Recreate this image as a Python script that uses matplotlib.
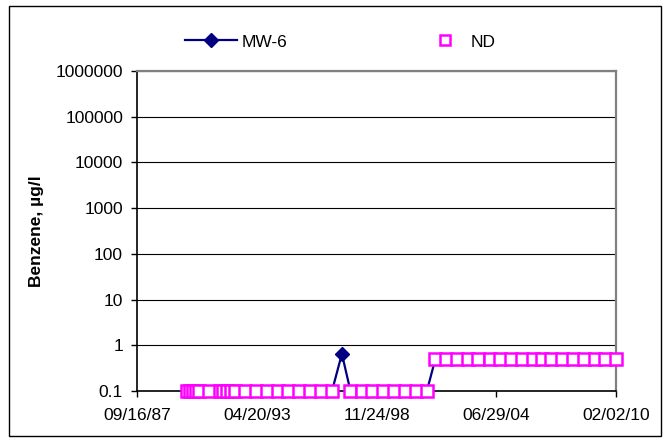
import pandas as pd
import numpy as np
import matplotlib
matplotlib.use('Agg')
import matplotlib.pyplot as plt
import matplotlib.dates as mdates
from matplotlib.patches import Rectangle
from matplotlib.lines import Line2D

plt.rcParams['font.family'] = ['Liberation Sans', 'DejaVu Sans']

# sampling dates for well MW-6
dates = ['1990-01-15', '1990-03-07', '1990-04-27', '1990-06-17', '1990-08-07',
         '1991-02-02', '1991-07-31', '1991-09-20', '1991-11-28', '1992-02-06',
         '1992-04-16', '1992-10-01', '1993-04-09', '1993-10-12', '1994-04-20',
         '1994-10-05', '1995-04-12', '1995-10-16', '1996-04-22', '1996-10-26',
         '1997-04-13',
         '1997-09-06', '1998-03-14', '1998-09-09', '1999-03-14', '1999-09-16',
         '2000-03-25', '2000-09-27', '2001-04-02',
         '2001-08-25', '2002-02-28', '2002-09-02', '2003-02-28', '2003-08-26',
         '2004-03-07', '2004-09-09', '2005-03-14', '2005-09-13', '2006-03-14',
         '2006-08-22', '2007-01-26', '2007-07-28', '2008-01-26', '2008-07-31',
         '2009-02-02', '2009-07-27', '2010-02-06']

# benzene, ug/l (non-detects plotted at detection limit)
benzene = [0.1] * 20 + [0.65] + [0.1] * 8 + [0.5] * 18

# non-detect flag
nd = [True] * 20 + [False] + [True] * 26

x_ticks = ['09/16/87', '04/20/93', '11/24/98', '06/29/04', '02/02/10']
y_ticks = [0.1, 1, 10, 100, 1000, 10000, 100000, 1000000]

df = pd.DataFrame({'Date': pd.to_datetime(dates), 'Benzene': benzene, 'ND': nd})
df_nd = df[df['ND']]
det = df[~df['ND']]

navy = '#000080'
pink = '#FF00FF'

fig = plt.figure(figsize=(6.68, 4.40), dpi=100)
ax = fig.add_axes([137 / 668, 1 - 391 / 440, (616 - 137) / 668, (391 - 71) / 440])

# MW-6 line through all samples, diamond only on the detect
ax.plot(df['Date'], df['Benzene'], color=navy, lw=1.6, zorder=3)
ax.plot(det['Date'], det['Benzene'], ls='none', marker='D', ms=7.5, color=navy, zorder=4)
ax.plot(df_nd['Date'], df_nd['Benzene'], ls='none', marker='s', ms=8.1,
        mfc='white', mec=pink, mew=1.8, zorder=5, clip_on=False)

ax.set_yscale('log')
ax.set_ylim(0.1, 1000000)
ax.set_yticks(y_ticks)
ax.set_yticklabels([('%g' % v) if v < 1 else str(int(v)) for v in y_ticks])
ax.yaxis.set_minor_locator(matplotlib.ticker.NullLocator())

xt = [mdates.date2num(pd.to_datetime(t, format='%m/%d/%y')) for t in x_ticks]
ax.set_xlim(xt[0], xt[-1])
ax.set_xticks(xt)
ax.set_xticklabels(x_ticks)

ax.tick_params(axis='both', direction='out', length=4, width=1, labelsize=12.5,
               color='black')
ax.tick_params(axis='x', pad=8)
ax.tick_params(axis='y', pad=6)

ax.grid(axis='y', color='black', lw=0.8)
ax.set_axisbelow(True)
for s in ['left', 'bottom']:
    ax.spines[s].set_color('black')
    ax.spines[s].set_linewidth(1.2)
for s in ['top', 'right']:
    ax.spines[s].set_color('#808080')
    ax.spines[s].set_linewidth(1.6)

ax.set_ylabel('Benzene, µg/l', fontsize=12.5, fontweight='bold', labelpad=8)

# legend, two entries placed apart like the original
h1 = Line2D([], [], color=navy, lw=1.6, marker='D', ms=7.5)
h2 = Line2D([], [], ls='none', marker='s', ms=7.6, mfc='white', mec=pink, mew=1.8)
fig.legend([h1], ['MW-6'], loc='center left', bbox_to_anchor=(169 / 668, 1 - 42 / 440),
           frameon=False, fontsize=12.5, handlelength=3, handletextpad=0.3)
fig.legend([h2], ['ND'], loc='center left', bbox_to_anchor=(415 / 668, 1 - 42 / 440),
           frameon=False, fontsize=12.5, handlelength=1.7, handletextpad=0.6)

fig.patches.append(Rectangle((9 / 668, 4 / 440), 652 / 668, 430 / 440,
                             transform=fig.transFigure, fill=False,
                             edgecolor='black', lw=1))

fig.savefig('out.png', dpi=100)
